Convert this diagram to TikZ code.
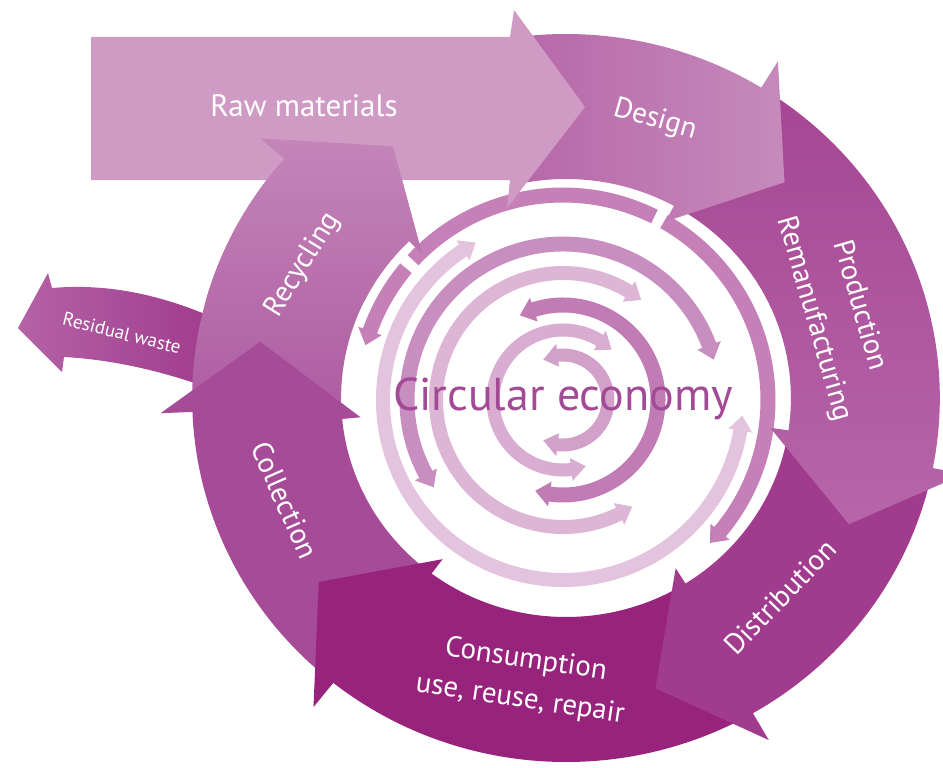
\documentclass[tikz,border=0pt]{standalone}
\usepackage{fontspec}
\setmainfont{PT Sans}
\definecolor{cRaw}{HTML}{CF9AC3}
\definecolor{cDesL}{HTML}{B565A7}
\definecolor{cDesR}{HTML}{C68ABB}
\definecolor{cProT}{HTML}{A64693}
\definecolor{cProB}{HTML}{B666A9}
\definecolor{cDis}{HTML}{A13B8D}
\definecolor{cCon}{HTML}{97237D}
\definecolor{cCol}{HTML}{A64B97}
\definecolor{cRecT}{HTML}{C485B9}
\definecolor{cRecB}{HTML}{AE5EA2}
\definecolor{cResL}{HTML}{B462A6}
\definecolor{cResR}{HTML}{9E3689}
\definecolor{cAa}{HTML}{D2A1CA}
\definecolor{cAb}{HTML}{D8ADD1}
\definecolor{cAc}{HTML}{C17BB5}
\definecolor{cAd}{HTML}{DDB6D6}
\definecolor{cAe}{HTML}{C98EC0}
\definecolor{cAf}{HTML}{E3C3DD}
\definecolor{cAg}{HTML}{C480B7}
\definecolor{cCE}{HTML}{A24A96}
% helper values for inner arcs
\newcommand\qprep[4]{%
  \pgfmathsetmacro\qH{15/#1*180/pi}%
  \pgfmathsetmacro\qA{#3+\qH}\pgfmathsetmacro\qB{#4-\qH}%
  \pgfmathsetmacro\qRo{#1+#2}\pgfmathsetmacro\qRi{#1-#2}%
  \pgfmathsetmacro\qRO{#1+#2+5}\pgfmathsetmacro\qRI{#1-#2-5}}
% double headed arc: color, radius, half width, a1, a2
\newcommand\dblarc[5]{\qprep{#2}{#3}{#4}{#5}%
  \fill[#1] (#4:#2) -- (\qA:\qRO) -- (\qA:\qRo) arc[start angle=\qA, end angle=\qB, radius=\qRo]
    -- (\qB:\qRO) -- (#5:#2) -- (\qB:\qRI) -- (\qB:\qRi) arc[start angle=\qB, end angle=\qA, radius=\qRi]
    -- (\qA:\qRI) -- cycle;}
% head at end a2
\newcommand\sglend[5]{\qprep{#2}{#3}{#4}{#5}%
  \fill[#1] (#4:\qRi) -- (#4:\qRo) arc[start angle=#4, end angle=\qB, radius=\qRo]
    -- (\qB:\qRO) -- (#5:#2) -- (\qB:\qRI) -- (\qB:\qRi) arc[start angle=\qB, end angle=#4, radius=\qRi] -- cycle;}
% head at start a1
\newcommand\sglstart[5]{\qprep{#2}{#3}{#4}{#5}%
  \fill[#1] (#4:#2) -- (\qA:\qRO) -- (\qA:\qRo) arc[start angle=\qA, end angle=#5, radius=\qRo]
    -- (#5:\qRi) arc[start angle=#5, end angle=\qA, radius=\qRi] -- (\qA:\qRI) -- cycle;}
% no heads
\newcommand\flatarc[5]{\qprep{#2}{#3}{#4}{#5}%
  \fill[#1] (#4:\qRi) -- (#4:\qRo) arc[start angle=#4, end angle=#5, radius=\qRo]
    -- (#5:\qRi) arc[start angle=#5, end angle=#4, radius=\qRi] -- cycle;}
% ring segment: options, start, outer barb, inner barb, tip
\newcommand\ringseg[5]{%
  \path[#1] (#2:219) -- (#2:364) arc[start angle=#2, end angle=#3, radius=364]
    -- (#3:395) -- (#5:303) -- (#4:201) -- (#4:219) arc[start angle=#4, end angle=#2, radius=219] -- cycle;}
\begin{document}
\begin{tikzpicture}[x=1pt,y=-1pt,
  lbl/.style={text=white, inner sep=0pt, font=\fontsize{29}{40}\selectfont},
  ringframe/.style={shift={(566,398)}, xscale=1.027}]
\useasboundingbox (0,0) rectangle (943,768);
\clip (0,0) rectangle (943,768);
% ---------- inner arcs
\begin{scope}[shift={(563,400)}]
  \dblarc{cAa}{45}{6.5}{-116}{116}
  \dblarc{cAb}{70}{6.5}{71}{314}
  \dblarc{cAc}{95}{7.5}{-117}{107}
  \dblarc{cAd}{127}{7}{57}{308}
  \dblarc{cAe}{156}{7.5}{146}{345}
  \dblarc{cAf}{180}{7}{5}{241}
  \sglstart{cAg}{205}{7.5}{195.5}{220}
  \flatarc{cAg}{205}{7.5}{223}{296.5}
  \sglend{cAg}{205}{7.5}{299.5}{404.2}
\end{scope}
% ---------- residual waste arrow
\shade[left color=cResL, right color=cResR]
  (18,328) -- (48,273) -- (52,288) .. controls (110,283) and (170,295) .. (240,330)
  -- (240,400) .. controls (180,375) and (120,360) .. (64,357) -- (62,372) -- cycle;
% ---------- ring
\begin{scope}[ringframe]
  \ringseg{top color=cRecT, bottom color=cRecB}{179}{221.1}{225.8}{236.2}
  \ringseg{fill=cCol}{129.5}{177.8}{174.5}{190.7}
  \ringseg{fill=cCon}{61}{128.5}{126.7}{142.6}
  \ringseg{fill=cDis}{12.1}{60}{57.9}{73.3}
  \ringseg{top color=cProT, bottom color=cProB}{302.5}{371.1}{368.5}{384.6}
  \ringseg{left color=cDesL, right color=cDesR}{259}{301.5}{298.7}{314.6}
\end{scope}
% ---------- raw materials arrow
\fill[cRaw] (91,37) -- (510,37) -- (514,10) -- (585,107) -- (507,208) -- (510,180) -- (91,180) -- cycle;
% ---------- recycling over the raw materials bar
\begin{scope}
  \clip (0,0) rectangle (943,300);
  \begin{scope}[ringframe]
    \ringseg{top color=cRecT, bottom color=cRecB}{179}{221.1}{225.8}{236.2}
  \end{scope}
\end{scope}
% ---------- labels
\node[lbl, font=\fontsize{31}{34}\selectfont, anchor=base] (raw) at (304,117) {Raw materials};
\node[lbl, rotate=-16] (design) at (655,120) {Design};
\node[lbl, rotate=-74] (prod) at (862,305) {Production};
\node[lbl, rotate=-74] (reman) at (814,319) {Remanufacturing};
\node[lbl, rotate=46] (distr) at (780,597) {Distribution};
\node[lbl, rotate=-8.5, align=center] (cons) at (523,680) {Consumption\\use, reuse, repair};
\node[lbl, rotate=-66] (coll) at (285,500) {Collection};
\node[lbl, rotate=58] (recy) at (303,265) {Recycling};
\node[lbl, rotate=-14, font=\fontsize{19}{22}\selectfont] (resid) at (122,333) {Residual waste};
\node[text=cCE, inner sep=0pt, font=\fontsize{46}{50}\selectfont, anchor=base] (ce) at (563,410) {Circular economy};
\end{tikzpicture}
\end{document}
